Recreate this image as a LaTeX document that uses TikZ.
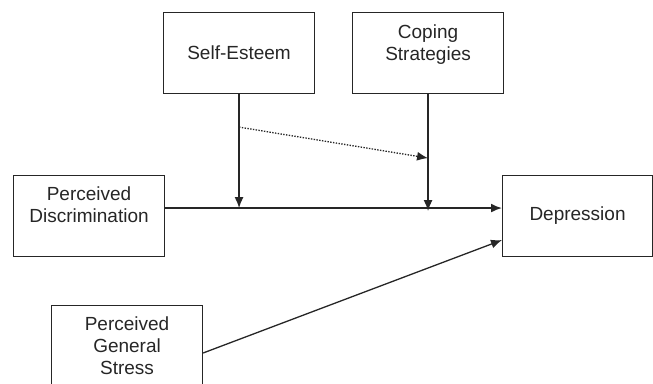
\documentclass[tikz,border=0pt]{standalone}
\usepackage{fontspec}
\setmainfont{Liberation Sans}
\usetikzlibrary{arrows.meta,calc}
\definecolor{ink}{HTML}{262626}
\begin{document}
\begin{tikzpicture}[x=1pt,y=-1pt,
 box/.style={draw=ink,line width=1.1pt,minimum width=151pt,minimum height=81pt,inner sep=0pt,anchor=north west},
 lbl/.style={font=\fontsize{19}{21.7}\selectfont,text=ink,align=center,inner sep=0pt},
 arr/.style={-{Latex[length=11pt,width=9pt]},line width=1.3pt,draw=ink},
 dots/.style={dash pattern=on 1.4pt off 1.4pt}]
\useasboundingbox (0,0) rectangle (653,383);
\node[box] (se) at (163,12) {};
\node[box] (cs) at (352,12) {};
\node[box] (disc) at (13,175) {};
\node[box,minimum width=150pt] (dep) at (502,175) {};
\node[box,minimum height=95pt] (st) at (51,305) {};
\node[lbl] (tse) at (se.center) {Self-Esteem};
\node[lbl,anchor=north] (tcs) at ([yshift=-13pt]cs.north) {Coping\\Strategies};
\node[lbl,anchor=north] (tdisc) at ([yshift=-12pt]disc.north) {Perceived\\Discrimination};
\node[lbl] (tdep) at (dep.center) {Depression};
\node[lbl,anchor=north] (tst) at ([yshift=-12pt]st.north) {Perceived\\General\\Stress};
\coordinate (mA) at ([yshift=8pt]disc.east);
\coordinate (mB) at ([yshift=8pt]dep.west);
\coordinate (d1) at ($(se.south)+(0,33)$);
\coordinate (d2) at ($(cs.south)+(0,64)$);
\coordinate (sA) at ($(st.north east)+(0,48)$);
\draw[arr,line width=1.8pt] (mA) -- (mB);
\draw[arr] (se.south) -- (se.south |- mA);
\draw[arr] (cs.south) -- ($(cs.south |- mA)+(0,3)$);
\draw[arr,dots] (d1) -- (d2);
\draw[arr] (sA) -- ([yshift=-24pt]dep.west);
\end{tikzpicture}
\end{document}
